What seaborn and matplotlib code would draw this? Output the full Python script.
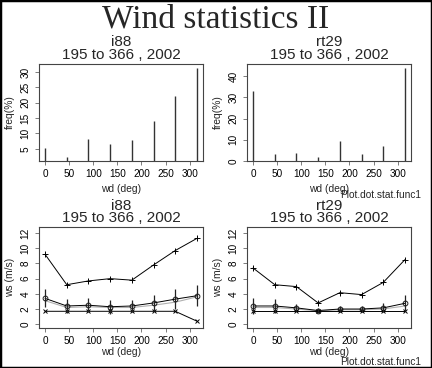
import seaborn as sns
import matplotlib.pyplot as plt
from matplotlib.patches import Rectangle

# wind direction classes (deg)
wd = [0, 45, 90, 135, 180, 225, 270, 315]
xticks = [0, 50, 100, 150, 200, 250, 300]

# frequency per direction (%)
freq_i88 = [5.4, 2.2, 8.3, 6.5, 8.0, 14.1, 22.3, 31.4]
freq_rt29 = [32.9, 3.4, 4.0, 1.9, 9.3, 3.1, 6.9, 44.0]

# wind speed stats per direction (m/s)
max_i88 = [9.2, 5.2, 5.7, 6.0, 5.8, 7.8, 9.7, 11.3]
mean_i88 = [3.4, 2.4, 2.5, 2.3, 2.4, 2.8, 3.3, 3.75]
sd_i88 = [1.2, 0.9, 0.9, 0.9, 0.8, 1.05, 1.3, 1.4]
med_i88 = [3.1, 2.2, 2.3, 2.2, 2.2, 2.5, 2.9, 3.6]
min_i88 = [1.7, 1.7, 1.7, 1.7, 1.7, 1.7, 1.7, 0.4]

max_rt29 = [7.4, 5.2, 4.95, 2.8, 4.15, 3.9, 5.5, 8.5]
mean_rt29 = [2.4, 2.4, 2.15, 1.8, 2.0, 2.0, 2.15, 2.75]
sd_rt29 = [1.0, 0.9, 0.45, 0.3, 0.35, 0.35, 0.6, 1.05]
med_rt29 = [2.2, 2.2, 2.0, 1.75, 1.9, 1.9, 2.0, 2.4]
min_rt29 = [1.7, 1.7, 1.7, 1.7, 1.7, 1.7, 1.7, 1.7]

sns.set_style("white")
plt.rcParams['font.family'] = ['Liberation Sans', 'DejaVu Sans']

W, H = 432, 368
fig = plt.figure(figsize=(W / 100, H / 100), dpi=100)
fig.patch.set_facecolor('white')
fig.patches.append(Rectangle((0, 0), 1, 1, transform=fig.transFigure,
                             fill=False, edgecolor='black', lw=2.5))


def make_ax(left, top, right, bottom):
    return fig.add_axes([left / W, 1 - bottom / H, (right - left) / W, (bottom - top) / H])


def style_ax(ax, ylabel, xlab_px, height):
    for s in ax.spines.values():
        s.set_visible(True)
        s.set_color('#444444')
        s.set_linewidth(0.8)
    ax.set_xlim(-12.6, 327.6)
    ax.set_xticks(xticks)
    ax.tick_params(axis='both', direction='out', length=3, width=0.6,
                   colors='#666666', labelcolor='black', labelsize=7.2,
                   bottom=True, left=True)
    ax.tick_params(axis='x', pad=3)
    ax.tick_params(axis='y', pad=3, labelrotation=90)
    for t in ax.get_yticklabels():
        t.set_va('center')
    ax.set_xlabel('wd (deg)', fontsize=7.4)
    ax.set_ylabel(ylabel, fontsize=7.4)
    ax.xaxis.set_label_coords(0.5, -xlab_px / height)
    ax.xaxis.label.set_va('center')
    ax.yaxis.set_label_coords(-29 / 164, 0.5)
    ax.yaxis.label.set_va('center')


def panel_title(ax_left, ax_right, top, name):
    cx = (ax_left + ax_right) / 2 / W
    fig.text(cx, 1 - (top - 21.5) / H, name, ha='center', va='center', fontsize=11)
    fig.text(cx, 1 - (top - 9) / H, '195 to 366 , 2002', ha='center', va='center', fontsize=11)


def freq_panel(ax, freq):
    ax.vlines(wd, 0, freq, color='#333333', lw=1)
    lo, hi = min(freq), max(freq)
    pad = 0.04 * (hi - lo)
    ax.set_ylim(lo - pad, hi + pad)


def ws_panel(ax, vmax, vmean, sd, vmed, vmin):
    sns.lineplot(x=wd, y=vmed, ax=ax, color='#b0b0b0', lw=0.8)
    sns.lineplot(x=wd, y=vmax, ax=ax, color='black', lw=0.7,
                 marker='+', markersize=4, markeredgecolor='black', markeredgewidth=0.7)
    sns.lineplot(x=wd, y=vmin, ax=ax, color='black', lw=0.7,
                 marker='x', markersize=3, markeredgecolor='black', markeredgewidth=0.7)
    sns.lineplot(x=wd, y=vmean, ax=ax, color='black', lw=0.7,
                 marker='o', markersize=3.5, markerfacecolor='none',
                 markeredgecolor='black', markeredgewidth=0.6)
    ax.errorbar(wd, vmean, yerr=sd, fmt='none', ecolor='#222222', elinewidth=0.9, capsize=0)
    ax.set_ylim(-0.5, 12.8)
    ax.set_yticks([0, 2, 4, 6, 8, 10, 12])


fig.text(0.5, 1 - 19 / H, 'Wind statistics II', ha='center', va='center',
         fontsize=24, family=['Liberation Serif', 'DejaVu Serif'])

# top row: frequency
ax1 = make_ax(39, 64, 203, 161)
freq_panel(ax1, freq_i88)
ax1.set_yticks([5, 10, 15, 20, 25, 30])
style_ax(ax1, 'freq(%)', 28, 97)
panel_title(39, 203, 64, 'i88')

ax2 = make_ax(247, 64, 411, 161)
freq_panel(ax2, freq_rt29)
ax2.set_yticks([0, 10, 20, 30, 40])
style_ax(ax2, 'freq(%)', 28, 97)
panel_title(247, 411, 64, 'rt29')

# bottom row: wind speed
ax3 = make_ax(39, 227, 203, 328)
ws_panel(ax3, max_i88, mean_i88, sd_i88, med_i88, min_i88)
style_ax(ax3, 'ws (m/s)', 24, 101)
panel_title(39, 203, 227, 'i88')

ax4 = make_ax(247, 227, 411, 328)
ws_panel(ax4, max_rt29, mean_rt29, sd_rt29, med_rt29, min_rt29)
style_ax(ax4, 'ws (m/s)', 24, 101)
panel_title(247, 411, 227, 'rt29')

for y in (195, 362):
    fig.text(421 / W, 1 - y / H, 'Plot.dot.stat.func1', ha='right', va='center', fontsize=7.3)

fig.savefig('out.png', dpi=100)
